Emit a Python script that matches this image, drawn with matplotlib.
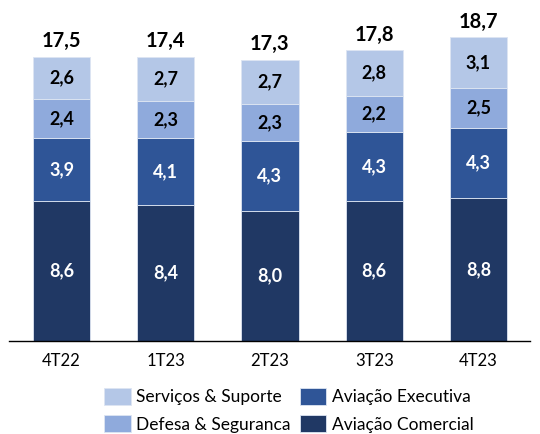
import matplotlib.pyplot as plt
import numpy as np

# Data
quarters = ["4T22", "1T23", "2T23", "3T23", "4T23"]
comercial = [8.6, 8.4, 8.0, 8.6, 8.8]
executiva = [3.9, 4.1, 4.3, 4.3, 4.3]
defesa = [2.4, 2.3, 2.3, 2.2, 2.5]
servicos = [2.6, 2.7, 2.7, 2.8, 3.1]
totals = [17.5, 17.4, 17.3, 17.8, 18.7]

series = [
    ("Aviação Comercial", comercial, "#203864", "white"),
    ("Aviação Executiva", executiva, "#2F5597", "white"),
    ("Defesa & Seguranca", defesa, "#8FAADC", "black"),
    ("Serviços & Suporte", servicos, "#B4C7E7", "black"),
]

plt.rcParams['font.family'] = ['Lato', 'DejaVu Sans']

fig = plt.figure(figsize=(5.4, 4.34), dpi=100)
ax = fig.add_axes([0.0174, 0.2143, 0.965, 0.7857])

x = np.arange(len(quarters))
bottom = np.zeros(len(quarters))
handles = {}
for name, vals, color, tcolor in series:
    vals = np.array(vals)
    bars = ax.bar(x, vals, width=0.55, bottom=bottom, color=color,
                  edgecolor="#DDE5F2", linewidth=0.6, label=name)
    handles[name] = bars
    for xi, b, v in zip(x, bottom, vals):
        ax.text(xi, b + v / 2, f"{v:.1f}".replace(".", ","), ha="center", va="center",
                color=tcolor, fontsize=13, fontweight="bold")
    bottom += vals

# totals on top
for xi, t, b in zip(x, totals, bottom):
    ax.text(xi, b + 0.35, f"{t:.1f}".replace(".", ","), ha="center", va="bottom",
            fontsize=14.5, fontweight="bold", color="black")

ax.set_xlim(-0.5, 4.5)
ax.set_ylim(0, 21.0)
ax.set_xticks(x)
ax.set_xticklabels(quarters, fontsize=12)
ax.tick_params(axis="x", length=0, pad=9)
ax.set_yticks([])
for s in ["top", "right", "left"]:
    ax.spines[s].set_visible(False)
ax.spines["bottom"].set_linewidth(1.0)
ax.spines["bottom"].set_color("black")

order = ["Serviços & Suporte", "Defesa & Seguranca", "Aviação Executiva", "Aviação Comercial"]
fig.legend([handles[n] for n in order], order, ncol=2, loc="upper left",
           bbox_to_anchor=(0.193, 0.106), frameon=False, fontsize=12.5,
           handlelength=1.55, handleheight=1.1, columnspacing=0.5, handletextpad=0.3,
           labelspacing=0.58, borderaxespad=0, borderpad=0)

fig.savefig("out.png", dpi=100)
